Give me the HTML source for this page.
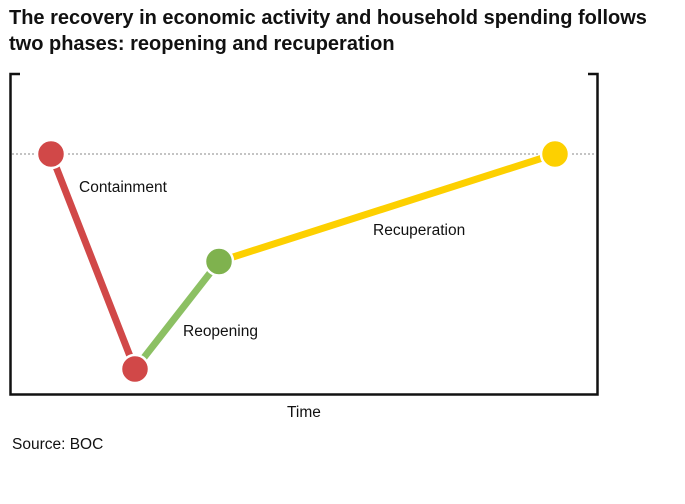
<!DOCTYPE html>
<html><head><meta charset="utf-8"><style>
body{margin:0;background:#fff;font-family:"Liberation Sans",Arial,sans-serif;}
#wrap{position:relative;width:685px;height:504px;overflow:hidden}
h1{position:absolute;left:9px;top:5px;margin:0;font-size:20px;line-height:26px;font-weight:bold;color:#111;width:665px;letter-spacing:0}
.src{position:absolute;left:12px;top:436px;font-size:15.5px;color:#111}
</style></head><body>
<div id="wrap">
<h1>The recovery in economic activity and household spending follows two phases: reopening and recuperation</h1>
<svg id="chart" width="685" height="504" style="position:absolute;left:0;top:0">
<path d="M20,74 H10.5 V394.5 H597.5 V74 H588" fill="none" stroke="#111" stroke-width="2.5"/>
<line x1="12" x2="596" y1="154" y2="154" stroke="#c4c4c4" stroke-width="2" stroke-dasharray="2,2"/>
<g id="marks"></g>
<text x="79" y="192" font-size="15.5" fill="#111">Containment</text>
<text x="183" y="336" font-size="15.5" fill="#111">Reopening</text>
<text x="373" y="235" font-size="15.5" fill="#111">Recuperation</text>
<text x="287" y="417" font-size="15.5" fill="#111">Time</text>
</svg>
<div class="src">Source: BOC</div>
</div>
<script>
const times = [1, 2, 3, 7];
const values = [100, 0, 50, 100];
const pointColors = ['#d14848', '#d14848', '#7fb24e', '#fdd000'];
const segmentColors = ['#d14848', '#8cc063', '#fdd000'];
const segmentNames = ['containment', 'reopening', 'recuperation'];
function xs(t){return -33 + 84*t;}
function ys(v){return 369 - v*2.15;}
const g = document.getElementById('marks');
const NS = 'http://www.w3.org/2000/svg';
for(let i=0;i<times.length-1;i++){
  const l=document.createElementNS(NS,'line');
  l.setAttribute('x1',xs(times[i]));l.setAttribute('y1',ys(values[i]));
  l.setAttribute('x2',xs(times[i+1]));l.setAttribute('y2',ys(values[i+1]));
  l.setAttribute('stroke',segmentColors[i]);l.setAttribute('stroke-width','7');
  
  
  g.appendChild(l);
}
for(let i=0;i<times.length;i++){
  const c=document.createElementNS(NS,'circle');
  c.setAttribute('cx',xs(times[i]));c.setAttribute('cy',ys(values[i]));
  c.setAttribute('r','14');c.setAttribute('fill',pointColors[i]);
  c.setAttribute('stroke','#fff');c.setAttribute('stroke-width','2.5');
  
  
  g.appendChild(c);
}
</script>
</body></html>
